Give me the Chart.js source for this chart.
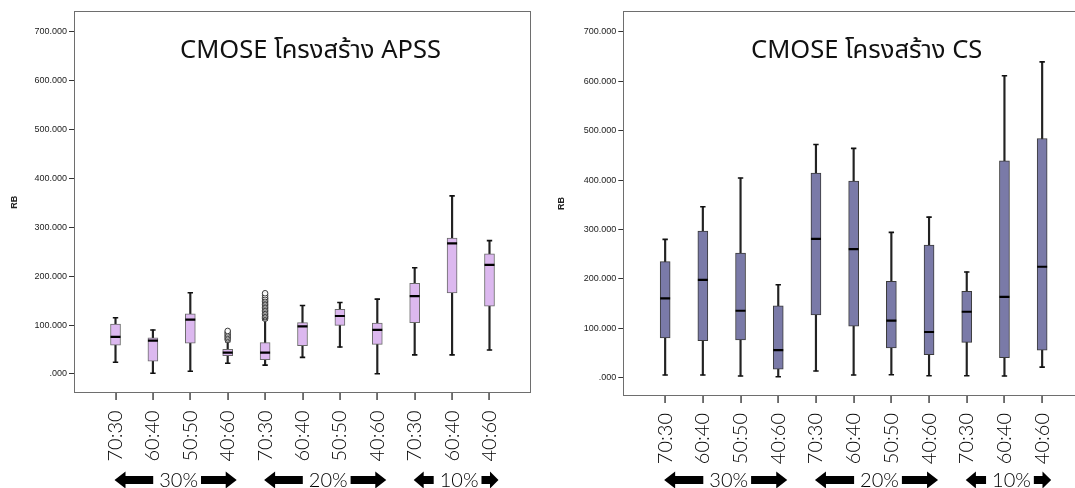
<!DOCTYPE html>
<html>
<head>
<meta charset="utf-8">
<script src="https://cdn.jsdelivr.net/npm/chart.js@4.4.1/dist/chart.umd.min.js"></script>
<style>
  html, body { margin: 0; padding: 0; background: #fff; overflow: hidden; width: 1075px; height: 488px; }
  canvas { position: absolute; top: 0; }
  #apss { left: 0; }
  #cs { left: 540px; }
</style>
</head>
<body>
<canvas id="apss" width="540" height="488"></canvas>
<canvas id="cs" width="560" height="488"></canvas>
<script>
// Mixing ratios along the x axis, grouped by percentage
const categories = ['70:30', '60:40', '50:50', '40:60', '70:30', '60:40', '50:50', '40:60', '70:30', '60:40', '40:60'];
const groupLabels = ['30%', '20%', '10%'];
const groupFirst = [0, 4, 8];
const groupLast = [3, 7, 10];
const yTicks = [0, 100, 200, 300, 400, 500, 600, 700];

// CMOSE, APSS structure: five-number summaries of RB
const apssLow    = [24, 1.5, 5.5, 22, 18, 34, 55, 0.6, 39, 39, 49];
const apssQ1     = [59, 26, 63, 37.5, 29, 58, 99.5, 60.5, 105, 165.5, 138.5];
const apssMedian = [76, 68, 111, 43.5, 43.5, 97.5, 118.5, 90, 159, 267, 223];
const apssQ3     = [102, 74, 123, 50.5, 64, 105, 132, 104, 185.5, 278, 245.5];
const apssHigh   = [115, 90, 166, 66, 110, 140, 146, 153, 217, 364, 272.5];
// outliers: category index and RB value
const apssOutlierIndex = [3, 3, 3, 3, 3, 3, 3,
  4, 4, 4, 4, 4, 4, 4, 4, 4, 4, 4, 4, 4, 4, 4, 4, 4, 4];
const apssOutlierValue = [70, 73, 76, 79, 82, 85, 88,
  113, 116, 118, 121, 124, 127, 130, 133, 136, 139, 142, 145, 148, 151, 154, 157, 161, 165];

// CMOSE, CS structure
const csLow    = [5.5, 5.5, 3.5, 2, 13.5, 5.5, 6, 4, 4, 3.5, 21.5];
const csQ1     = [80.5, 75, 76.5, 17.5, 127, 104.5, 60.5, 46.5, 71.5, 40.5, 55.5];
const csMedian = [160.5, 198, 135.5, 56, 281, 260, 115.5, 92.5, 133.5, 163.5, 224.5];
const csQ3     = [235, 296.5, 252, 145.5, 414, 398, 195, 268.5, 175, 439, 484];
const csHigh   = [280, 346, 404, 188, 472, 464, 294, 325, 214, 611, 639];
const csOutlierIndex = [];
const csOutlierValue = [];

const tickFont = { family: "'Lato', sans-serif", size: 20, weight: '300' };

function drawArrow(ctx, xFrom, xTo, y, headLeft) {
  const len = xTo - xFrom;
  const head = Math.min(11, len * 0.5);
  const hh = 8.5, sh = 4;
  ctx.beginPath();
  if (headLeft) {
    ctx.moveTo(xFrom, y);
    ctx.lineTo(xFrom + head, y - hh);
    ctx.lineTo(xFrom + head, y - sh);
    ctx.lineTo(xTo, y - sh);
    ctx.lineTo(xTo, y + sh);
    ctx.lineTo(xFrom + head, y + sh);
    ctx.lineTo(xFrom + head, y + hh);
  } else {
    ctx.moveTo(xTo, y);
    ctx.lineTo(xTo - head, y - hh);
    ctx.lineTo(xTo - head, y - sh);
    ctx.lineTo(xFrom, y - sh);
    ctx.lineTo(xFrom, y + sh);
    ctx.lineTo(xTo - head, y + sh);
    ctx.lineTo(xTo - head, y + hh);
  }
  ctx.closePath();
  ctx.fill();
}

// Frame around the plot, category tick marks, the heading inside the frame
// and the percentage arrows under the ratio labels
const panelDecor = {
  id: 'panelDecor',
  afterDraw(chart, args, opts) {
    const { ctx, chartArea: a, scales: { x } } = chart;
    ctx.save();
    ctx.strokeStyle = '#6e6e6e';
    ctx.lineWidth = 1;
    const bottom = Math.round(a.bottom);
    ctx.strokeRect(Math.round(a.left) + 0.5, Math.round(a.top) + 0.5,
      Math.round(a.right - a.left) - 1, Math.round(a.bottom - a.top) - 1);

    ctx.fillStyle = '#2a2a2a';
    categories.forEach((_, i) => {
      const px = Math.round(x.getPixelForValue(i));
      ctx.fillRect(px - 0.6, bottom, 1.3, 7);
    });

    ctx.fillStyle = '#111';
    ctx.font = opts.titleSize + "px 'Noto Sans', 'Noto Sans Thai', sans-serif";
    ctx.textAlign = 'center';
    ctx.textBaseline = 'middle';
    ctx.fillText(opts.title, (a.left + a.right) / 2 + opts.titleShift, opts.titleY);

    ctx.font = tickFont.weight + ' ' + tickFont.size + 'px ' + tickFont.family;
    const y = 480;
    groupLabels.forEach((label, g) => {
      const start = x.getPixelForValue(groupFirst[g]) - 1;
      const end = x.getPixelForValue(groupLast[g]) + 9;
      const mid = (start + end) / 2 + 3;
      const w = ctx.measureText(label).width;
      ctx.fillStyle = '#000';
      ctx.fillText(label, mid, y + 1);
      drawArrow(ctx, start, mid - w / 2 - 6, y, true);
      drawArrow(ctx, mid + w / 2 + 3, end, y, false);
    });
    ctx.restore();
  }
};

function makeChart(id, cfg) {
  const boxes = categories.map((_, i) => ({ x: i, y: [cfg.q1[i], cfg.q3[i]] }));
  const whiskers = categories.map((_, i) => ({ x: i, y: [cfg.low[i], cfg.high[i]] }));
  const medians = categories.map((_, i) => ({ x: i, y: cfg.median[i] }));
  const caps = categories.flatMap((_, i) => [{ x: i, y: cfg.low[i] }, { x: i, y: cfg.high[i] }]);
  const outliers = cfg.outIdx.map((i, k) => ({ x: i, y: cfg.outVal[k] }));

  return new Chart(document.getElementById(id), {
    type: 'bar',
    data: {
      datasets: [
        { type: 'scatter', data: outliers, pointStyle: 'circle', radius: 2.8,
          borderColor: '#3a3a3a', borderWidth: 1, backgroundColor: 'rgba(255,255,255,0.9)' },
        { type: 'scatter', data: medians, pointStyle: 'line', radius: 5,
          borderColor: '#000', borderWidth: 2.2 },
        { type: 'scatter', data: caps, pointStyle: 'line', radius: 2.7,
          borderColor: '#111', borderWidth: 1.6 },
        { type: 'bar', data: boxes, grouped: false, barThickness: 10,
          backgroundColor: cfg.fill, borderColor: cfg.edge, borderWidth: 1, borderSkipped: false },
        { type: 'bar', data: whiskers, grouped: false, barThickness: 1.5,
          backgroundColor: '#222', borderWidth: 0 }
      ]
    },
    options: {
      responsive: false,
      animation: false,
      events: [],
      layout: { padding: { left: 0, top: 11, right: cfg.padRight, bottom: 0 } },
      plugins: {
        legend: { display: false },
        tooltip: { enabled: false },
        panelDecor: { title: cfg.title, titleSize: 25.5, titleY: 51, titleShift: cfg.titleShift }
      },
      scales: {
        x: {
          type: 'linear',
          offset: false,
          min: -1.11,
          max: 11.11,
          afterBuildTicks: s => { s.ticks = categories.map((_, i) => ({ value: i })); },
          afterFit: s => { s.height = cfg.xHeight; },
          grid: { display: false },
          border: { display: false },
          ticks: {
            autoSkip: false, minRotation: 90, maxRotation: 90, padding: 9,
            color: '#000', font: tickFont,
            callback: v => categories[v]
          }
        },
        y: {
          min: cfg.yMin,
          max: 742,
          afterBuildTicks: s => { s.ticks = yTicks.map(v => ({ value: v })); },
          afterFit: s => { s.width = cfg.yWidth; },
          grid: { display: true, drawOnChartArea: false, drawTicks: true, tickLength: 5, color: '#333' },
          border: { display: false },
          title: { display: true, text: 'RB', color: '#222',
            font: { family: "'Liberation Sans', Arial, sans-serif", size: 9, weight: 'bold' },
            padding: { top: cfg.rbPad, bottom: 0 } },
          ticks: {
            padding: 2, color: '#222',
            font: { family: "'Liberation Sans', Arial, sans-serif", size: 9 },
            callback: v => (v === 0 ? '.000' : v.toFixed(3))
          }
        }
      }
    },
    plugins: [panelDecor]
  });
}

makeChart('apss', {
  title: 'CMOSE โครงสร้าง APSS',
  low: apssLow, q1: apssQ1, median: apssMedian, q3: apssQ3, high: apssHigh,
  outIdx: apssOutlierIndex, outVal: apssOutlierValue,
  fill: '#dcb8ef', edge: '#6a6a6a',
  yMin: -39.5, yWidth: 74, xHeight: 94.7, padRight: 9, rbPad: 9.6, titleShift: 8
});

makeChart('cs', {
  title: 'CMOSE โครงสร้าง CS',
  low: csLow, q1: csQ1, median: csMedian, q3: csQ3, high: csHigh,
  outIdx: csOutlierIndex, outVal: csOutlierValue,
  fill: '#7a7aa8', edge: '#3a3a3a',
  yMin: -37, yWidth: 83.3, xHeight: 92, padRight: 16, rbPad: 16.6, titleShift: 13
});
</script>
</body>
</html>
